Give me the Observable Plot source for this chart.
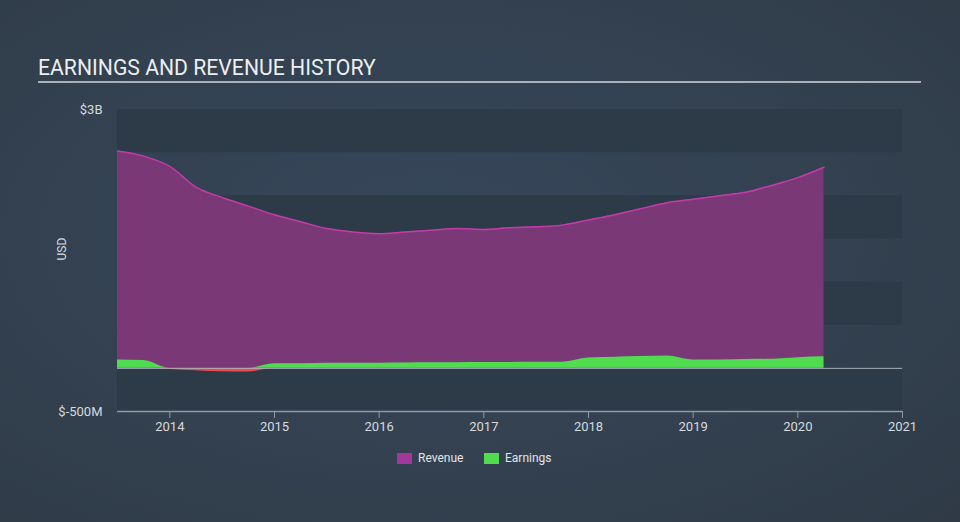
<!DOCTYPE html>
<html><head><meta charset="utf-8">
<script src="https://cdn.jsdelivr.net/npm/d3@7"></script>
<script src="https://cdn.jsdelivr.net/npm/@observablehq/plot@0.6"></script>
<style>
html,body{margin:0;padding:0;}
body{width:960px;height:522px;overflow:hidden;background:radial-gradient(ellipse at 45% 45%, #36465a 0%, #334150 55%, #2f3a46 100%);font-family:Roboto,"Noto Sans",sans-serif;}
#wrap{position:relative;width:960px;height:522px;}
#title{position:absolute;left:38px;top:56px;font-size:21.2px;line-height:24px;color:#eceef0;white-space:nowrap;}
#rule{position:absolute;left:38px;top:81px;width:883px;height:2px;background:#a9b0b8;}
#chart{position:absolute;left:0;top:0;}
#legend{position:absolute;top:450px;left:0;width:960px;height:16px;font-size:12px;color:#e2e4e7;}
.item{position:absolute;top:0;display:flex;align-items:center;height:16px;}
.sw{width:15px;height:11px;margin-right:6px;}
</style></head>
<body><div id="wrap">
<div id="title">EARNINGS AND REVENUE HISTORY</div>
<div id="rule"></div>
<div id="chart"></div>
<div id="legend">
  <div class="item" style="left:397px"><span class="sw" style="background:#a3379a"></span>Revenue</div>
  <div class="item" style="left:484px"><span class="sw" style="background:#4fdc4f"></span>Earnings</div>
</div>
</div>
<script>
// Time in decimal years (quarterly)
const periods = [2013.5, 2013.75, 2014.0, 2014.25, 2014.5, 2014.75, 2015.0, 2015.25, 2015.5, 2015.75,
  2016.0, 2016.25, 2016.5, 2016.75, 2017.0, 2017.25, 2017.5, 2017.75, 2018.0, 2018.25,
  2018.5, 2018.75, 2019.0, 2019.25, 2019.5, 2019.75, 2020.0, 2020.25];
// Revenue, $B
const revenue = [2.52, 2.46, 2.34, 2.10, 1.98, 1.88, 1.78, 1.70, 1.62, 1.58,
  1.56, 1.58, 1.60, 1.62, 1.61, 1.63, 1.64, 1.66, 1.72, 1.78,
  1.85, 1.92, 1.96, 2.00, 2.04, 2.12, 2.21, 2.33];
// Earnings, $B
const earnings = [0.096, 0.090, -0.012, -0.028, -0.040, -0.042, 0.052, 0.054, 0.058, 0.060,
  0.060, 0.062, 0.064, 0.066, 0.068, 0.068, 0.070, 0.072, 0.120, 0.128,
  0.136, 0.142, 0.096, 0.098, 0.102, 0.106, 0.124, 0.134];
const xTicks = [2014, 2015, 2016, 2017, 2018, 2019, 2020, 2021];
const yTicks = [3, -0.5];
const yTickLabels = ["$3B", "$-500M"];
const xDomain = [2013.5, 2021];
const yDomain = [-0.5, 3];

const rev = periods.map((t, i) => ({t, v: revenue[i]}));
const earn = periods.map((t, i) => ({t, v: earnings[i]}));
const bands = [[2.5, 3], [1.5, 2], [0.5, 1], [-0.5, 0]];

const chart = Plot.plot({
  width: 960, height: 522,
  marginLeft: 117, marginRight: 58, marginTop: 109, marginBottom: 111,
  style: {background: "transparent", fontFamily: "Roboto, sans-serif", color: "#d6dade"},
  x: {domain: xDomain, label: null},
  y: {domain: yDomain, label: null},
  marks: [
    Plot.rect(bands, {x1: () => xDomain[0], x2: () => xDomain[1], y1: d => d[0], y2: d => d[1], fill: "#2d3a48"}),
    Plot.areaY(rev, {x: "t", y: "v", fill: "#7b3876", curve: "monotone-x"}),
    Plot.lineY(rev, {x: "t", y: "v", stroke: "#c23caa", strokeWidth: 1.5, curve: "monotone-x"}),
    Plot.areaY(earn, {x: "t", y: d => Math.max(d.v, 0), fill: "#4fdc4f", curve: "monotone-x"}),
    Plot.areaY(earn, {x: "t", y: d => Math.min(d.v, 0), fill: "#ee4b4f", curve: "monotone-x"}),
    Plot.ruleY([0], {x1: xDomain[0], x2: xDomain[1], stroke: "#a9b1ba", strokeWidth: 1}),
    Plot.ruleY([-0.5], {stroke: "#8f9aa6", strokeWidth: 1.5}),
    Plot.axisX({ticks: xTicks, tickFormat: d => String(d), tickSize: 7, tickPadding: 3, stroke: "#8f9aa6", fill: "#d6dade", fontSize: 13, label: null}),
    Plot.axisY({ticks: yTicks, tickFormat: d => yTickLabels[yTicks.indexOf(d)], tickSize: 0, tickPadding: 15, fill: "#d6dade", fontSize: 13, label: null}),
    Plot.text(["USD"], {text: d => d, frameAnchor: "left", dx: -55, rotate: -90, fill: "#d6dade", fontSize: 12})
  ]
});
document.getElementById("chart").appendChild(chart);
</script>
</body></html>
